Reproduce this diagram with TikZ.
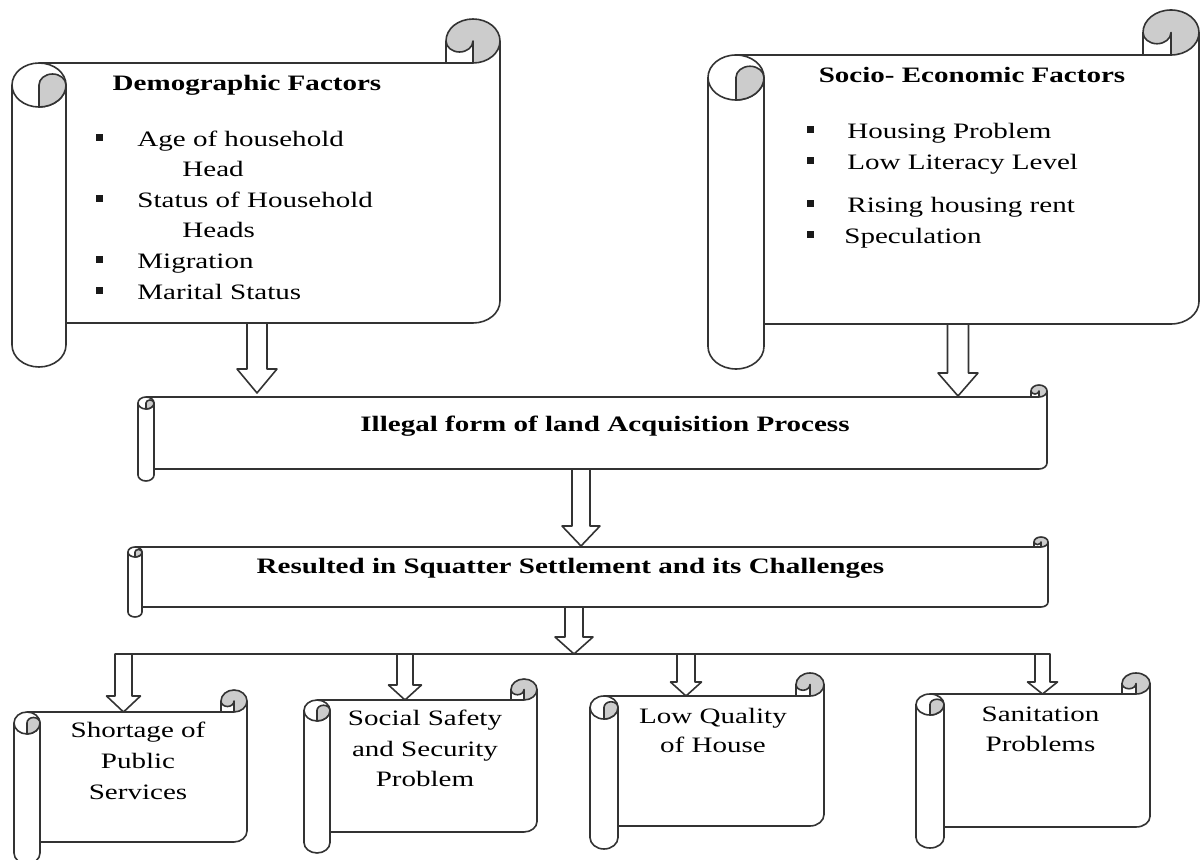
\documentclass[tikz,border=0pt]{standalone}
\usepackage{graphicx}
\usepackage{fontspec}
\setmainfont{Liberation Serif}
\usetikzlibrary{calc,fit}
\tikzset{
  ln/.style={draw=black!80, line width=0.8pt, line join=round},
  curl/.style={ln, fill=black!20},
  barrow/.style={ln, fill=white},
  txt/.style={inner sep=0pt, anchor=base, font=\fontsize{11}{13}\selectfont},
  ttl/.style={txt, font=\fontsize{11}{13}\selectfont\bfseries},
  body/.style={inner sep=0pt, draw=none},
}
\newcommand\sx[1]{\scalebox{1.32}[1]{#1}}
% name, l, t, r, b, chx, chy  (pixel units, y downwards)
\newcommand\vscroll[7]{%
  \pgfmathsetmacro\scL{#2}\pgfmathsetmacro\scT{-#3}\pgfmathsetmacro\scR{#4}\pgfmathsetmacro\scB{-#5}%
  \pgfmathsetmacro\scA{#6}\pgfmathsetmacro\scC{#7}%
  \pgfmathsetmacro\scAh{#6/2}\pgfmathsetmacro\scCh{#7/2}\pgfmathsetmacro\scAq{#6/4}\pgfmathsetmacro\scCq{#7/4}%
  \draw[ln] (\scL+\scAh,\scT-\scC) -- (\scR-\scAh,\scT-\scC);
  \draw[ln] (\scR,\scT-\scCh) -- (\scR,\scB+\scC+\scCh)
     arc[start angle=0,end angle=-90,x radius=\scAh,y radius=\scCh] -- (\scL+\scA,\scB+\scC);
  \draw[ln] (\scR-\scA,\scT-\scCh) -- (\scR-\scA,\scT-\scC);
  \draw[curl] (\scR-\scA,\scT-\scCh)
     arc[start angle=180,end angle=-90,x radius=\scAh,y radius=\scCh]
     -- (\scR-\scAh,\scT-\scCh)
     arc[start angle=0,end angle=-180,x radius=\scAq,y radius=\scCq] -- cycle;
  \draw[ln, fill=white] (\scL,\scT-\scC-\scCh) -- (\scL,\scB+\scCh)
     arc[start angle=180,end angle=360,x radius=\scAh,y radius=\scCh]
     -- (\scL+\scA,\scT-\scC-\scCh);
  \draw[ln, fill=white] (\scL+\scAh,\scT-\scC-\scCh) ellipse[x radius=\scAh,y radius=\scCh];
  \draw[curl] (\scL+\scAh,\scT-\scC-\scCh)
     arc[start angle=180,end angle=0,x radius=\scAq,y radius=\scCq]
     arc[start angle=0,end angle=-90,x radius=\scAh,y radius=\scCh] -- cycle;
  \node[body, fit={(\scL+\scA,\scT-\scC) (\scR,\scB+\scC)}] (#1) {};
}
% block arrow: from, to, shaft half width, head half width, head length
\newcommand\barr[5]{%
  \draw[barrow] ($(#1)+(-#3,0)$) -- ($(#2)+(-#3,#5)$) -- ($(#2)+(-#4,#5)$) -- (#2)
     -- ($(#2)+(#4,#5)$) -- ($(#2)+(#3,#5)$) -- ($(#1)+(#3,0)$) -- cycle;}
\newcommand\bul[2]{\fill[black!90] (#1-3.5,-#2+3.5) rectangle (#1+3.5,-#2-3.5);}
\begin{document}
\begin{tikzpicture}[x=0.5pt,y=0.5pt]
\useasboundingbox (0,0) rectangle (1201,-860);
\clip (0,0) rectangle (1201,-860);
\fill[white] (0,0) rectangle (1201,-860);

% scrolls
\vscroll{dem}{12}{19}{500}{367}{54}{44}
\vscroll{soc}{708}{10}{1199}{369}{56}{45}
\vscroll{ill}{138}{385}{1047}{481}{16}{12}
\vscroll{res}{128}{537}{1048}{617}{14}{10}
\vscroll{sho}{14}{690}{247}{864}{26}{22}
\vscroll{saf}{304}{679}{537}{853}{26}{21}
\vscroll{low}{590}{673}{824}{849}{28}{23}
\vscroll{san}{916}{673}{1150}{848}{28}{21}

% texts: demographic
\node[ttl] (tdem) at (247,-91) {\sx{Demographic Factors}};
\node[txt, anchor=base west] (d1) at (137,-147) {\sx{Age of household}};
\node[txt, anchor=base west] (d1b) at (182,-177) {\sx{Head}};
\node[txt, anchor=base west] (d2) at (137,-208) {\sx{Status of Household}};
\node[txt, anchor=base west] (d2b) at (182,-238) {\sx{Heads}};
\node[txt, anchor=base west] (d3) at (137,-269) {\sx{Migration}};
\node[txt, anchor=base west] (d4) at (137,-300) {\sx{Marital Status}};
\bul{99}{138}\bul{99}{199}\bul{99}{260}\bul{99}{291}

% texts: socio-economic
\node[ttl] (tsoc) at (972,-83) {\sx{Socio- Economic Factors}};
\node[txt, anchor=base west] (s1) at (847,-139) {\sx{Housing Problem}};
\node[txt, anchor=base west] (s2) at (847,-170) {\sx{Low Literacy Level}};
\node[txt, anchor=base west] (s3) at (847,-213) {\sx{Rising housing rent}};
\node[txt, anchor=base west] (s4) at (844,-244) {\sx{Speculation}};
\bul{810.5}{130}\bul{810.5}{161}\bul{810.5}{204}\bul{810.5}{235}

% middle titles
\node[ttl] (till) at (605,-432) {\sx{Illegal form of land Acquisition Process}};
\node[ttl] (tres) at (570.5,-574) {\sx{Resulted in Squatter Settlement and its Challenges}};

% bottom texts
\node[txt] (sh1) at (138,-738) {\sx{Shortage of}};
\node[txt] (sh2) at (138,-769) {\sx{Public}};
\node[txt] (sh3) at (138,-800) {\sx{Services}};
\node[txt] (sf1) at (425,-726) {\sx{Social Safety}};
\node[txt] (sf2) at (425,-757) {\sx{and Security}};
\node[txt] (sf3) at (425,-787) {\sx{Problem}};
\node[txt] (lq1) at (713,-724) {\sx{Low Quality}};
\node[txt] (lq2) at (713,-753) {\sx{of House}};
\node[txt] (sn1) at (1040.5,-722) {\sx{Sanitation}};
\node[txt] (sn2) at (1040.5,-752) {\sx{Problems}};

% arrows
\coordinate (a1s) at (257,-323);  \coordinate (a1e) at (257,-393);
\coordinate (a2s) at (958,-324);  \coordinate (a2e) at (958,-396);
\coordinate (a3s) at (581,-469);  \coordinate (a3e) at (581,-546);
\coordinate (a4s) at (574,-607);  \coordinate (a4e) at (574,-654);
\coordinate (br1) at (115,-654);  \coordinate (br2) at (1050,-654);
\coordinate (b1s) at (123.5,-654); \coordinate (b1e) at (123.5,-712);
\coordinate (b2s) at (405,-654);   \coordinate (b2e) at (405,-700);
\coordinate (b3s) at (686,-654);   \coordinate (b3e) at (686,-696);
\coordinate (b4s) at (1042.5,-654);\coordinate (b4e) at (1042.5,-694);

\barr{a1s}{a1e}{10}{20}{24}
\barr{a2s}{a2e}{10.5}{20}{23}
\barr{a3s}{a3e}{9}{19}{20}
\draw[ln] (br1) -- (br2);
\barr{a4s}{a4e}{9}{19}{17}
\barr{b1s}{b1e}{8.5}{17}{16}
\barr{b2s}{b2e}{8}{16.5}{15}
\barr{b3s}{b3e}{9}{15.5}{14}
\barr{b4s}{b4e}{7.5}{15}{12}
\end{tikzpicture}
\end{document}
